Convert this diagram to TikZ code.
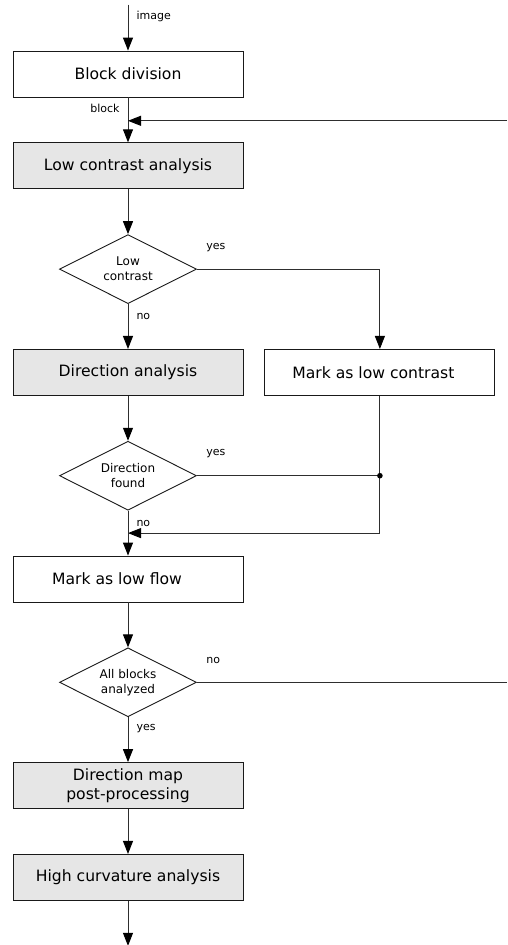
\documentclass[tikz,border=0pt]{standalone}
\usepackage{fontspec}
\setmainfont{DejaVu Sans}
\usetikzlibrary{shapes.geometric, arrows.meta, positioning, calc}

\definecolor{boxgray}{HTML}{E6E6E6}
\definecolor{linegray}{HTML}{2E2E2E}

\begin{document}
\begin{tikzpicture}[x=1pt, y=-1pt, node distance=44.9pt]
\tikzstyle{block} = [rectangle, draw=black!90, line width=0.9pt, fill=white, minimum width=230pt, minimum height=46pt, align=center, font=\fontsize{15.6}{18.5}\selectfont]
\tikzstyle{grayblock} = [block, fill=boxgray]
\tikzstyle{decision} = [diamond, aspect=2, draw=black!90, line width=0.9pt, fill=white, minimum width=137pt, minimum height=69pt, inner sep=0pt, align=center, font=\fontsize{12}{15}\selectfont]
\tikzstyle{lbl} = [inner sep=1pt, font=\fontsize{11}{13}\selectfont]
\tikzstyle{line} = [draw=linegray, line width=1pt]
\tikzstyle{arrowline} = [line, -{Triangle[length=13pt, width=10pt, color=black]}]

\useasboundingbox (0,0) rectangle (507,945);

\node [block] (blockdiv) at (128,74) {Block division};
\node [grayblock, below=of blockdiv] (lowcon) {Low contrast analysis};
\node [decision, below=of lowcon] (islow) {Low\\contrast};
\node [grayblock, below=of islow] (dirana) {Direction analysis};
\node [block, right=21pt of dirana] (markcon) {Mark as low contrast\hspace*{13pt}};
\node [decision, below=of dirana] (isdir) {Direction\\found};
\node [block, below=of isdir] (markflow) {Mark as low flow\hspace*{22pt}};
\node [decision, below=of markflow] (isall) {All blocks\\analyzed};
\node [grayblock, below=of isall] (postproc) {Direction map\\post-processing};
\node [grayblock, below=of postproc] (highcurv) {High curvature analysis};

\coordinate [above=46pt of blockdiv.north] (imagein);
\coordinate [below=45pt of highcurv.south] (flowout);
\coordinate (rightedge) at (507,0);
\coordinate (loopjoin) at ($(blockdiv.south)!0.52!(lowcon.north)$);
\coordinate (lowjoin) at ($(isdir.south)!0.5!(markflow.north)$);

\path [arrowline] (imagein) -- node [lbl, right=7pt, pos=0.25] {image} (blockdiv);
\path [arrowline] (blockdiv) -- node [lbl, left=7pt, pos=0.24] {block} (lowcon);
\path [arrowline] (lowcon) -- (islow);
\path [arrowline] (islow) -- node [lbl, right=7pt, pos=0.28] {no} (dirana);
\path [arrowline] (islow.east) -| node [lbl, pos=0, anchor=west, xshift=8pt, yshift=22pt] {yes} (markcon);
\path [arrowline] (dirana) -- (isdir);
\path [line] (isdir.east) -- node [lbl, pos=0, anchor=west, xshift=8pt, yshift=22pt] {yes} (markcon.south |- isdir.east);
\path [arrowline] (markcon) |- (lowjoin);
\fill [black] (markcon.south |- isdir.east) circle (2.8pt);
\path [arrowline] (isdir) -- node [lbl, right=7pt, pos=0.28] {no} (markflow);
\path [arrowline] (markflow) -- (isall);
\path [line] (isall.east) -- node [lbl, pos=0, anchor=west, xshift=8pt, yshift=22pt] {no} (isall.east -| rightedge);
\path [arrowline] (loopjoin -| rightedge) -- (loopjoin);
\path [arrowline] (isall) -- node [lbl, right=7pt, pos=0.26] {yes} (postproc);
\path [arrowline] (postproc) -- (highcurv);
\path [arrowline] (highcurv) -- (flowout);
\end{tikzpicture}
\end{document}
